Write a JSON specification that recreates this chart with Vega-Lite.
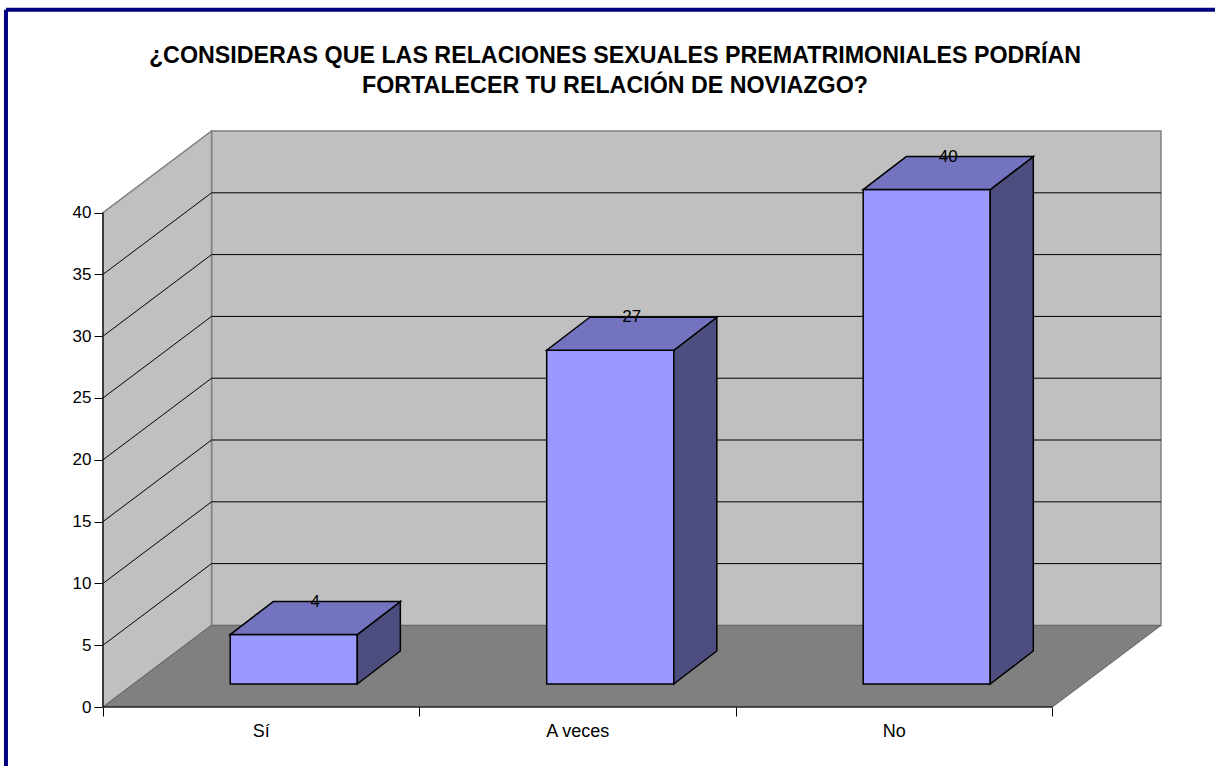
{
"$schema":"https://vega.github.io/schema/vega-lite/v6.json",
"width":1058,"height":576,
"autosize":{"type":"none"},
"padding":{"left":103,"top":131,"right":54,"bottom":59},
"background":"white",
"config":{"view":{"stroke":null}},
"title":{"text":["¿CONSIDERAS QUE LAS RELACIONES SEXUALES PREMATRIMONIALES PODRÍAN","FORTALECER TU RELACIÓN DE NOVIAZGO?"],"font":"Liberation Sans","fontSize":23.25,"fontWeight":"bold","color":"#000000","anchor":"middle","dx":-17,"offset":-90,"lineHeight":30},
"params":[{"name":"du","value":0.343},{"name":"dv","value":6.6},{"name":"bdu","value":0.136},{"name":"bdv","value":2.67},{"name":"bw","value":0.4015},{"name":"bx","value":0.402},{"name":"bv","value":1.862}],
"datasets":{
"barras":[{"respuesta":"Sí","orden":0,"valor":4},{"respuesta":"A veces","orden":1,"valor":27},{"respuesta":"No","orden":2,"valor":40}],
"niveles":[{"nivel":5},{"nivel":10},{"nivel":15},{"nivel":20},{"nivel":25},{"nivel":30},{"nivel":35}],
"t":[{"t":0},{"t":1}]
},
"encoding":{
"x":{"field":"u","type":"quantitative","stack":null,"title":null,"scale":{"domain":[0,3.343],"nice":false,"zero":false},"axis":{"values":[0,1,2,3],"labels":false,"domain":false,"grid":false,"tickColor":"#000000","tickSize":9,"tickWidth":1}},
"y":{"field":"v","type":"quantitative","stack":null,"title":null,"scale":{"domain":[0,46.6],"nice":false,"zero":false},"axis":{"values":[0,5,10,15,20,25,30,35,40],"domain":false,"grid":false,"tickColor":"#000000","tickSize":9,"tickWidth":1,"labelFont":"Liberation Sans","labelFontSize":17,"labelColor":"#000000","labelPadding":3}}
},
"layer":[
{"data":{"values":[{"pared":"fondo"}]},"transform":[{"calculate":"du","as":"u"},{"calculate":"3+du","as":"u2"},{"calculate":"dv","as":"v"},{"calculate":"40+dv","as":"v2"}],
 "mark":{"type":"rect","fill":"#c0c0c0","stroke":"#808080","strokeWidth":1.5},"encoding":{"x2":{"field":"u2"},"y2":{"field":"v2"}}},
{"data":{"name":"t"},"transform":[{"calculate":"datum.t*du","as":"u"},{"calculate":"datum.t*dv","as":"v"},{"calculate":"40+datum.t*dv","as":"v2"}],
 "mark":{"type":"area","fill":"#c0c0c0","stroke":"#808080","strokeWidth":1.5,"opacity":1},"encoding":{"y2":{"field":"v2"}}},
{"data":{"name":"t"},"transform":[{"calculate":"datum.t*du","as":"u"},{"calculate":"datum.t*dv","as":"v"},{"calculate":"3+datum.t*du","as":"u2"}],
 "mark":{"type":"area","orient":"horizontal","fill":"#808080","stroke":"#666666","strokeWidth":1,"opacity":1},"encoding":{"x2":{"field":"u2"}}},
{"data":{"name":"niveles"},"transform":[{"calculate":"du","as":"u"},{"calculate":"3+du","as":"u2"},{"calculate":"datum.nivel+dv","as":"v"}],
 "mark":{"type":"rule","color":"#000000","strokeWidth":1},"encoding":{"x2":{"field":"u2"}}},
{"data":{"name":"niveles"},"transform":[{"calculate":"0","as":"u"},{"calculate":"du","as":"u2"},{"calculate":"datum.nivel","as":"v"},{"calculate":"datum.nivel+dv","as":"v2"}],
 "mark":{"type":"rule","color":"#000000","strokeWidth":1},"encoding":{"x2":{"field":"u2"},"y2":{"field":"v2"}}},
{"data":{"values":[{"eje":"x"},{"eje":"y"}]},"transform":[{"calculate":"0","as":"u"},{"calculate":"datum.eje=='x'?3:0","as":"u2"},{"calculate":"0","as":"v"},{"calculate":"datum.eje=='y'?40:0","as":"v2"}],
 "mark":{"type":"rule","color":"#000000","strokeWidth":1.2},"encoding":{"x2":{"field":"u2"},"y2":{"field":"v2"}}},
{"data":{"name":"barras"},"transform":[{"calculate":"datum.orden+bx","as":"u"},{"calculate":"datum.orden+bx+bw","as":"u2"},{"calculate":"bv","as":"v"},{"calculate":"bv+datum.valor","as":"v2"}],
 "mark":{"type":"rect","fill":"#9999ff","stroke":"#000000","strokeWidth":1.5},"encoding":{"x2":{"field":"u2"},"y2":{"field":"v2"}}},
{"data":{"name":"barras"},"transform":[{"calculate":"[0,1]","as":"t"},{"flatten":["t"]},{"calculate":"datum.orden+bx+bw+datum.t*bdu","as":"u"},{"calculate":"bv+datum.t*bdv","as":"v"},{"calculate":"bv+datum.valor+datum.t*bdv","as":"v2"}],
 "mark":{"type":"area","fill":"#4d4d80","stroke":"#000000","strokeWidth":1.5,"opacity":1},"encoding":{"y2":{"field":"v2"},"detail":{"field":"respuesta"}}},
{"data":{"name":"barras"},"transform":[{"calculate":"[0,1]","as":"t"},{"flatten":["t"]},{"calculate":"datum.orden+bx+datum.t*bdu","as":"u"},{"calculate":"datum.orden+bx+bw+datum.t*bdu","as":"u2"},{"calculate":"bv+datum.valor+datum.t*bdv","as":"v"}],
 "mark":{"type":"area","orient":"horizontal","fill":"#7373bf","stroke":"#000000","strokeWidth":1.5,"opacity":1},"encoding":{"x2":{"field":"u2"},"detail":{"field":"respuesta"}}},
{"data":{"name":"barras"},"transform":[{"calculate":"datum.orden+bx+bw/2+bdu/2","as":"u"},{"calculate":"bv+datum.valor+bdv","as":"v"}],
 "mark":{"type":"text","font":"Liberation Sans","fontSize":17,"color":"#000000","baseline":"middle","align":"center"},"encoding":{"text":{"field":"valor","type":"quantitative"}}},
{"data":{"name":"barras"},"transform":[{"calculate":"datum.orden+0.5","as":"u"},{"calculate":"-2.02","as":"v"}],
 "mark":{"type":"text","font":"Liberation Sans","fontSize":18,"color":"#000000","baseline":"middle","align":"center"},"encoding":{"text":{"field":"respuesta","type":"nominal"}}},
{"data":{"values":[{"borde":"superior"},{"borde":"izquierdo"}]},"transform":[{"calculate":"-0.3066","as":"u"},{"calculate":"datum.borde=='superior'?3.52:-0.3066","as":"u2"},{"calculate":"56.4","as":"v"},{"calculate":"datum.borde=='superior'?56.4:-4.8","as":"v2"}],
 "mark":{"type":"rule","color":"#000080","strokeWidth":4},"encoding":{"x2":{"field":"u2"},"y2":{"field":"v2"}}}
]
}
